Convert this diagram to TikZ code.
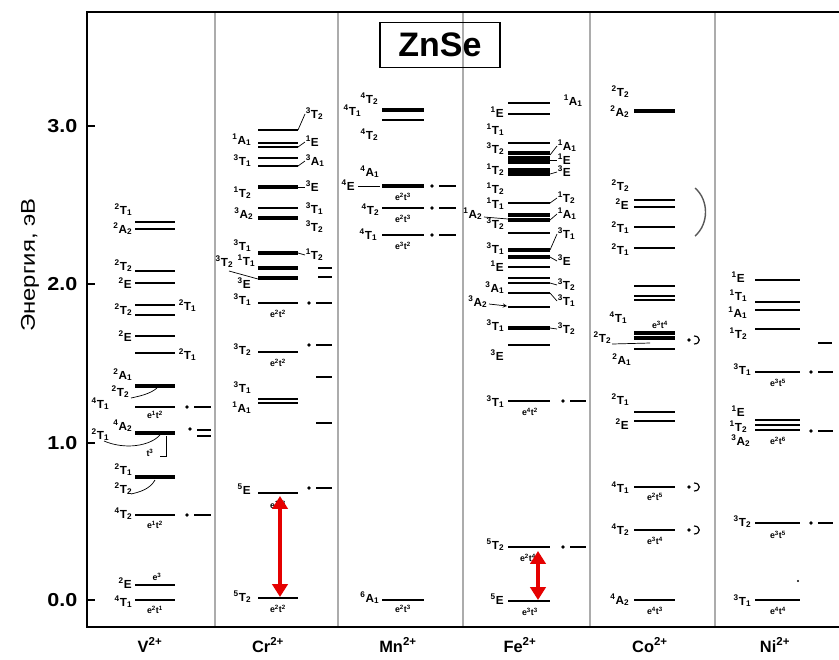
\documentclass[tikz,border=0pt]{standalone}
\usepackage{fontspec}
\setmainfont{Liberation Sans}
\usetikzlibrary{arrows.meta}
\newcommand\tm[3]{\textsuperscript{#1}#2\textsubscript{#3}}
\newcommand\cf[2]{e\textsuperscript{#1}t\textsuperscript{#2}}

\begin{document}
\begin{tikzpicture}[>=stealth, x=0.03cm, y=-0.03cm,
    lv/.style={line width=1.4pt},
    lvb/.style={line width=2.8pt},
    sep/.style={line width=1.6pt, gray!65},
    ptr/.style={line width=0.6pt},
    trm/.style={font=\bfseries\fontsize{10}{11}\selectfont, inner sep=0.5pt},
    cnf/.style={font=\bfseries\fontsize{7.5}{8}\selectfont, inner sep=0pt},
    ion/.style={font=\bfseries\fontsize{14}{16}\selectfont},
    tik/.style={font=\bfseries\fontsize{16}{18}\selectfont, anchor=east, xscale=1.15},
    jump/.style={red!90!black, line width=3.8pt, {Triangle[length=11pt,width=13pt]}-{Triangle[length=11pt,width=13pt]}}]
    \useasboundingbox (0,0) rectangle (839,659);

    % frame and axis
    \draw[line width=1.6pt] (839,12) -- (87,12) -- (87,627);
    \draw[line width=2.4pt] (86,627) -- (839,627);
    \foreach \x in {215,338,463,590,715}
        \draw[sep] (\x,13) -- (\x,626);
    \foreach \y/\v [count=\k] in {126/3.0, 284/2.0, 443/1.0, 600/0.0} {
        \draw[line width=1.2pt] (87,\y) -- (95,\y);
        \node[tik] (tk\k) at (82,\y) {\v};
    }
    \node[rotate=90, font=\fontsize{17}{18}\selectfont, xscale=1.2] (ylab) at (30,265) {Энергия, эВ};
    \node[draw, line width=1.6pt, minimum width=120*0.03cm, minimum height=45*0.03cm,
          font=\bfseries\fontsize{29}{30}\selectfont] (title) at (440,45) {ZnSe};

    % ion names
    \foreach \x/\t [count=\k] in {150/V\textsuperscript{2+}, 268/Cr\textsuperscript{2+}, 398/Mn\textsuperscript{2+},
                                  520/Fe\textsuperscript{2+}, 650/Co\textsuperscript{2+}, 775/Ni\textsuperscript{2+}}
        \node[ion] (ion\k) at (\x,645) {\t};

    %%% V2+
    \foreach \y in {222,229,271,283,305,315,336,353,407,515,585,600}
        \draw[lv] (135,\y) -- (175,\y);
    \foreach \y in {386,433,477}
        \draw[lvb] (135,\y) -- (175,\y);
    \foreach \x/\y/\t [count=\k] in {133/210/\tm2T1, 133/229/\tm2A2, 133/266/\tm2T2, 133/284/\tm2E{},
            133/310/\tm2T2, 133/337/\tm2E{}, 133/375/\tm2A1, 130/392/\tm2T2, 110/404/\tm4T1,
            133/426/\tm4A2, 110/435/\tm2T1, 133/470/\tm2T1, 133/489/\tm2T2, 133/514/\tm4T2,
            133/584/\tm2E{}, 133/602/\tm4T1}
        \node[trm, anchor=east] (v\k) at (\x,\y) {\t};
    \node[trm, anchor=west] (vr1) at (178,306) {\tm2T1};
    \node[trm, anchor=west] (vr2) at (178,355) {\tm2T1};
    \draw[ptr] (131,398) .. controls (140,396) and (150,394) .. (157,388);
    \draw[ptr] (131,494) .. controls (140,492) and (150,489) .. (155,480);
    \draw[ptr] (104,441) .. controls (125,450) and (150,446) .. (160,435);
    \draw[ptr] (166,436) -- (166,456) -- (160,456);
    \node[cnf] (vt) at (150,453) {t\textsuperscript{3}};
    \node[cnf] (vc1) at (155,415) {\cf12};
    \node[cnf] (vc2) at (155,525) {\cf12};
    \node[cnf] (vc3) at (157,577) {e\textsuperscript{3}};
    \node[cnf] (vc4) at (155,610) {\cf21};
    \foreach \y in {407,515} {
        \fill (187,\y) circle (1.6pt);
        \draw[lv] (194,\y) -- (211,\y);
    }
    \fill (190,429) circle (1.6pt);
    \draw[lv] (197,430) -- (211,430);
    \draw[lv] (197,436) -- (211,436);

    %%% Cr2+
    \foreach \y in {130,143,147,158,166,208,303,352,399,403,493,598}
        \draw[lv] (258,\y) -- (298,\y);
    \foreach \y in {187,218,253,268,278}
        \draw[lvb] (258,\y) -- (298,\y);
    \foreach \x/\y/\t [count=\k] in {252/140/\tm1A1, 252/161/\tm3T1, 252/193/\tm1T2, 254/214/\tm3A2,
            252/246/\tm3T1, 256/261/\tm1T1, 234/262/\tm3T2, 252/284/\tm3E{}, 252/300/\tm3T1,
            252/350/\tm3T2, 252/388/\tm3T1, 252/408/\tm1A1, 252/490/\tm5E{}, 252/597/\tm5T2}
        \node[trm, anchor=east] (cr\k) at (\x,\y) {\t};
    \draw[ptr] (229,271) -- (258,279);
    \foreach \ly/\ty/\t [count=\k] in {130/114/\tm3T2, 147/142/\tm1E{}, 166/161/\tm3A1, 187/187/\tm3E{}, 253/255/\tm1T2} {
        \draw[ptr] (298,\ly) -- (305,\ty);
        \node[trm, anchor=west] (crr\k) at (305,\ty) {\t};
    }
    \node[trm, anchor=west] (crr6) at (305,209) {\tm3T1};
    \node[trm, anchor=west] (crr7) at (305,227) {\tm3T2};
    \node[cnf] (crc1) at (278,314) {\cf22};
    \node[cnf] (crc2) at (278,363) {\cf22};
    \node[cnf] (crc3) at (278,505) {\cf13};
    \node[cnf] (crc4) at (278,609) {\cf22};
    \draw[lv] (318,268) -- (332,268);
    \draw[lv] (318,277) -- (332,277);
    \foreach \y in {303,345,488} {
        \fill (309,\y) circle (1.6pt);
        \draw[lv] (316,\y) -- (332,\y);
    }
    \foreach \y in {377,423}
        \draw[lv] (316,\y) -- (332,\y);
    \coordinate (crUp) at (280,496);
    \coordinate (crDn) at (280,597);
    \draw[jump] (crUp) -- (crDn);

    %%% Mn2+
    \foreach \y in {120,208,235,600}
        \draw[lv] (382,\y) -- (424,\y);
    \foreach \y in {110,186}
        \draw[lvb] (382,\y) -- (424,\y);
    \foreach \x/\y/\t [count=\k] in {379/99/\tm4T2, 362/111/\tm4T1, 379/135/\tm4T2, 380/172/\tm4A1,
            356/186/\tm4E{}, 380/210/\tm4T2, 378/235/\tm4T1, 380/598/\tm6A1}
        \node[trm, anchor=east] (mn\k) at (\x,\y) {\t};
    \draw[ptr] (358,186) -- (380,186);
    \node[cnf] (mnc1) at (403,197) {\cf23};
    \node[cnf] (mnc2) at (403,219) {\cf23};
    \node[cnf] (mnc3) at (403,246) {\cf32};
    \node[cnf] (mnc4) at (403,609) {\cf23};
    \foreach \y in {186,208,235} {
        \fill (432,\y) circle (1.6pt);
        \draw[lv] (439,\y) -- (456,\y);
    }

    %%% Fe2+
    \foreach \y in {103,114,143,203,233,267,278,283,293,307,345,401,547,601}
        \draw[lv] (508,\y) -- (550,\y);
    \foreach \y in {153,158,162,170,174,215,220,250,257,328}
        \draw[lvb] (508,\y) -- (550,\y);
    \foreach \x/\y/\t [count=\k] in {505/113/\tm1E{}, 505/130/\tm1T1, 505/149/\tm3T2, 505/170/\tm1T2,
            505/189/\tm1T2, 505/204/\tm1T1, 483/214/\tm1A2, 505/224/\tm3T2, 505/249/\tm3T1,
            505/267/\tm1E{}, 505/288/\tm3A1, 488/302/\tm3A2, 505/326/\tm3T1, 505/356/\tm3E{},
            505/402/\tm3T1, 505/545/\tm5T2, 505/600/\tm5E{}}
        \node[trm, anchor=east] (fe\k) at (\x,\y) {\t};
    \draw[ptr] (484,217) -- (508,219);
    \draw[ptr, ->] (489,304) -- (507,306);
    \node[trm, anchor=west] (fer0) at (563,101) {\tm1A1};
    \foreach \ly/\ty/\t [count=\k] in {155/146/\tm1A1, 160/160/\tm1E{}, 174/172/\tm3E{}, 203/198/\tm1T2,
            220/214/\tm1A1, 250/234/\tm3T1, 257/261/\tm3E{}, 283/285/\tm3T2, 293/301/\tm3T1, 328/329/\tm3T2} {
        \draw[ptr] (550,\ly) -- (557,\ty);
        \node[trm, anchor=west] (fer\k) at (557,\ty) {\t};
    }
    \node[cnf] (fec1) at (530,412) {\cf42};
    \node[cnf] (fec2) at (528,558) {\cf24};
    \node[cnf] (fec3) at (530,612) {\cf33};
    \foreach \y in {401,547} {
        \fill (563,\y) circle (1.6pt);
        \draw[lv] (570,\y) -- (586,\y);
    }
    \coordinate (feUp) at (538,551);
    \coordinate (feDn) at (538,600);
    \draw[jump] (feUp) -- (feDn);

    %%% Co2+
    \foreach \y in {200,207,227,248,286,296,300,349,412,421,487,530,600}
        \draw[lv] (634,\y) -- (675,\y);
    \foreach \y in {111,333,338}
        \draw[lvb] (634,\y) -- (675,\y);
    \foreach \x/\y/\t [count=\k] in {630/92/\tm2T2, 630/112/\tm2A2, 630/186/\tm2T2, 630/205/\tm2E{},
            630/228/\tm2T1, 630/250/\tm2T1, 628/318/\tm4T1, 612/338/\tm2T2, 632/360/\tm2A1,
            630/400/\tm2T1, 630/425/\tm2E{}, 630/488/\tm4T1, 630/530/\tm4T2, 630/600/\tm4A2}
        \node[trm, anchor=east] (co\k) at (\x,\y) {\t};
    \draw[ptr] (612,344) -- (650,343);
    \node[cnf] (coc1) at (660,325) {\cf34};
    \node[cnf] (coc2) at (655,497) {\cf25};
    \node[cnf] (coc3) at (655,541) {\cf34};
    \node[cnf] (coc4) at (655,611) {\cf43};
    \draw[line width=1.2pt, gray!70!black] (695,188) .. controls (709,200) and (709,224) .. (695,236);
    \foreach \y in {340,487,530} {
        \fill (689,\y) circle (1.6pt);
        \draw[line width=1pt] (694,\y-4) .. controls (701,\y-4) and (701,\y+4) .. (694,\y+4);
    }

    %%% Ni2+
    \foreach \y in {280,302,310,329,372,420,425,430,523,600}
        \draw[lv] (755,\y) -- (800,\y);
    \foreach \x/\y/\t [count=\k] in {746/278/\tm1E{}, 748/296/\tm1T1, 748/313/\tm1A1, 748/334/\tm1T2,
            752/370/\tm3T1, 746/412/\tm1E{}, 748/427/\tm1T2, 751/441/\tm3A2, 752/522/\tm3T2, 752/601/\tm3T1}
        \node[trm, anchor=east] (ni\k) at (\x,\y) {\t};
    \node[cnf] (nic1) at (778,383) {\cf35};
    \node[cnf] (nic2) at (778,441) {\cf26};
    \node[cnf] (nic3) at (778,535) {\cf35};
    \node[cnf] (nic4) at (778,611) {\cf44};
    \draw[lv] (818,343) -- (832,343);
    \foreach \y in {372,431,523} {
        \fill (811,\y) circle (1.6pt);
        \draw[lv] (818,\y) -- (833,\y);
    }
    \fill (798,581) circle (1pt);
\end{tikzpicture}
\end{document}
